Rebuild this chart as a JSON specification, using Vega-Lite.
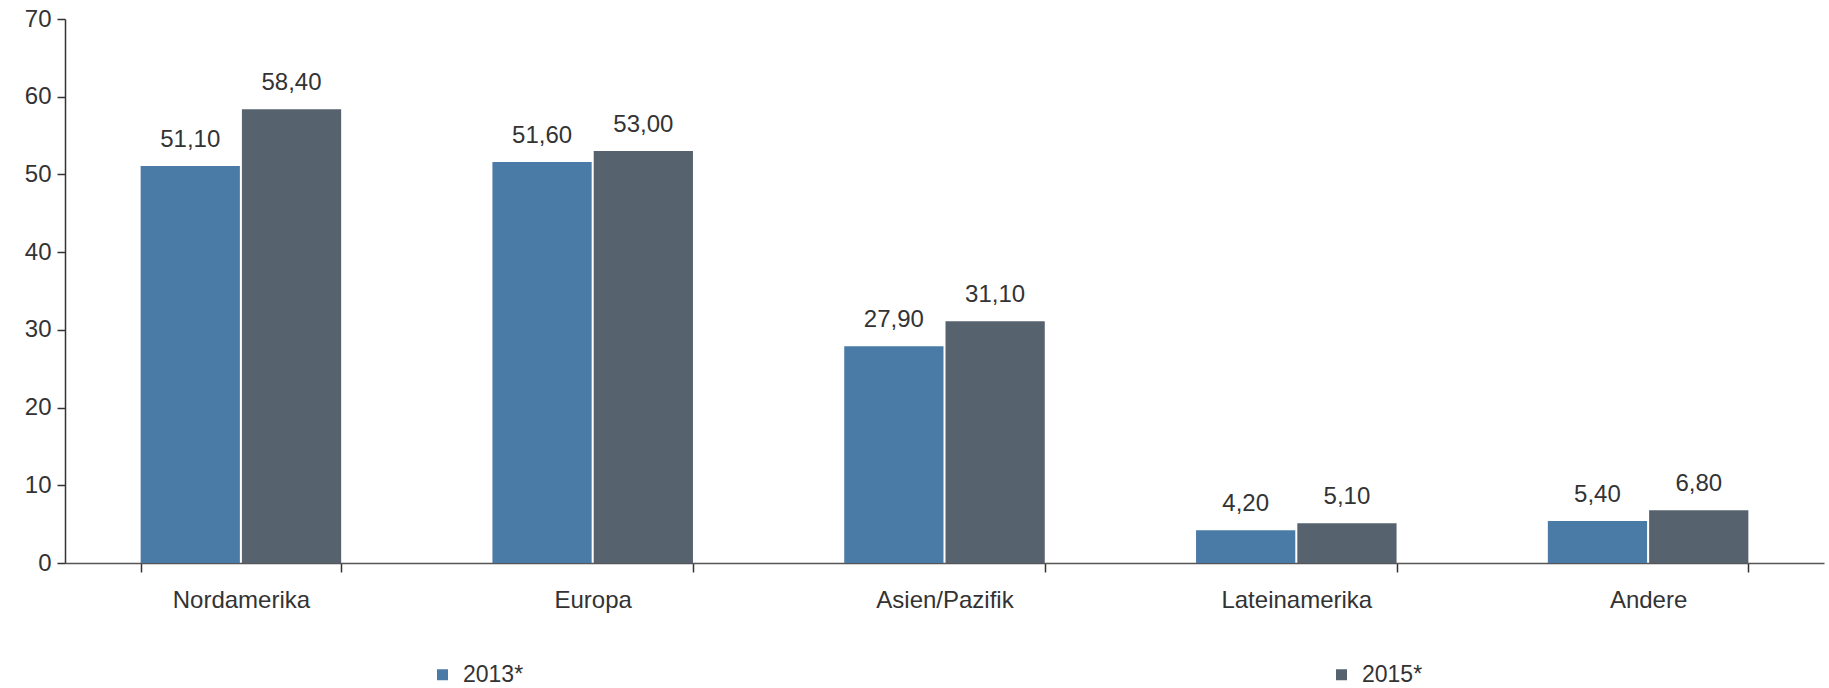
{
  "$schema": "https://vega.github.io/schema/vega-lite/v6.json",
  "width": 1759,
  "height": 544,
  "autosize": {"type": "none"},
  "padding": {"left": 65, "top": 19, "right": 5, "bottom": 125},
  "background": "white",
  "config": {
    "locale": {"number": {"decimal": ",", "thousands": ".", "grouping": [3], "currency": ["", " €"]}},
    "font": "Liberation Sans",
    "view": {"stroke": null},
    "axis": {"labelFont": "Liberation Sans", "labelColor": "#333333", "labelFontSize": 24, "grid": false}
  },
  "data": {
    "values": [
      {"region": "Nordamerika", "year": "2013*", "value": 51.1},
      {"region": "Nordamerika", "year": "2015*", "value": 58.4},
      {"region": "Europa", "year": "2013*", "value": 51.6},
      {"region": "Europa", "year": "2015*", "value": 53.0},
      {"region": "Asien/Pazifik", "year": "2013*", "value": 27.9},
      {"region": "Asien/Pazifik", "year": "2015*", "value": 31.1},
      {"region": "Lateinamerika", "year": "2013*", "value": 4.2},
      {"region": "Lateinamerika", "year": "2015*", "value": 5.1},
      {"region": "Andere", "year": "2013*", "value": 5.4},
      {"region": "Andere", "year": "2015*", "value": 6.8}
    ]
  },
  "encoding": {
    "x": {
      "field": "region", "type": "nominal", "sort": null,
      "scale": {"paddingInner": 0.43, "paddingOuter": 0.215},
      "axis": {"title": null, "labelAngle": 0, "tickBand": "extent", "domainColor": "#555555", "domainWidth": 1.5, "tickColor": "#333333", "tickWidth": 1.5, "tickSize": 9, "labelPadding": 16}
    },
    "xOffset": {"field": "year", "type": "nominal", "scale": {"paddingInner": 0.02, "paddingOuter": 0}},
    "y": {
      "field": "value", "type": "quantitative",
      "scale": {"domain": [0, 70], "nice": false},
      "axis": {"title": null, "values": [0, 10, 20, 30, 40, 50, 60, 70], "domainColor": "#333333", "domainWidth": 1.5, "tickColor": "#333333", "tickWidth": 1.5, "tickSize": 8, "labelPadding": 6}
    }
  },
  "layer": [
    {
      "mark": {"type": "bar"},
      "encoding": {
        "color": {
          "field": "year", "type": "nominal",
          "scale": {"domain": ["2013*", "2015*"], "range": ["#4A7BA6", "#56636F"]},
          "legend": {
            "title": null, "orient": "none", "direction": "horizontal", "columns": 2,
            "legendX": 366, "legendY": 644,
            "symbolType": "square", "symbolSize": 121, "symbolStrokeWidth": 0, "symbolOpacity": 1,
            "labelFontSize": 23, "labelColor": "#333333", "labelOffset": 9, "columnPadding": 806
          }
        }
      }
    },
    {
      "mark": {"type": "text", "baseline": "alphabetic", "dy": -19, "fontSize": 24, "color": "#333333"},
      "encoding": {
        "text": {"field": "value", "type": "quantitative", "format": ".2f"}
      }
    }
  ]
}
